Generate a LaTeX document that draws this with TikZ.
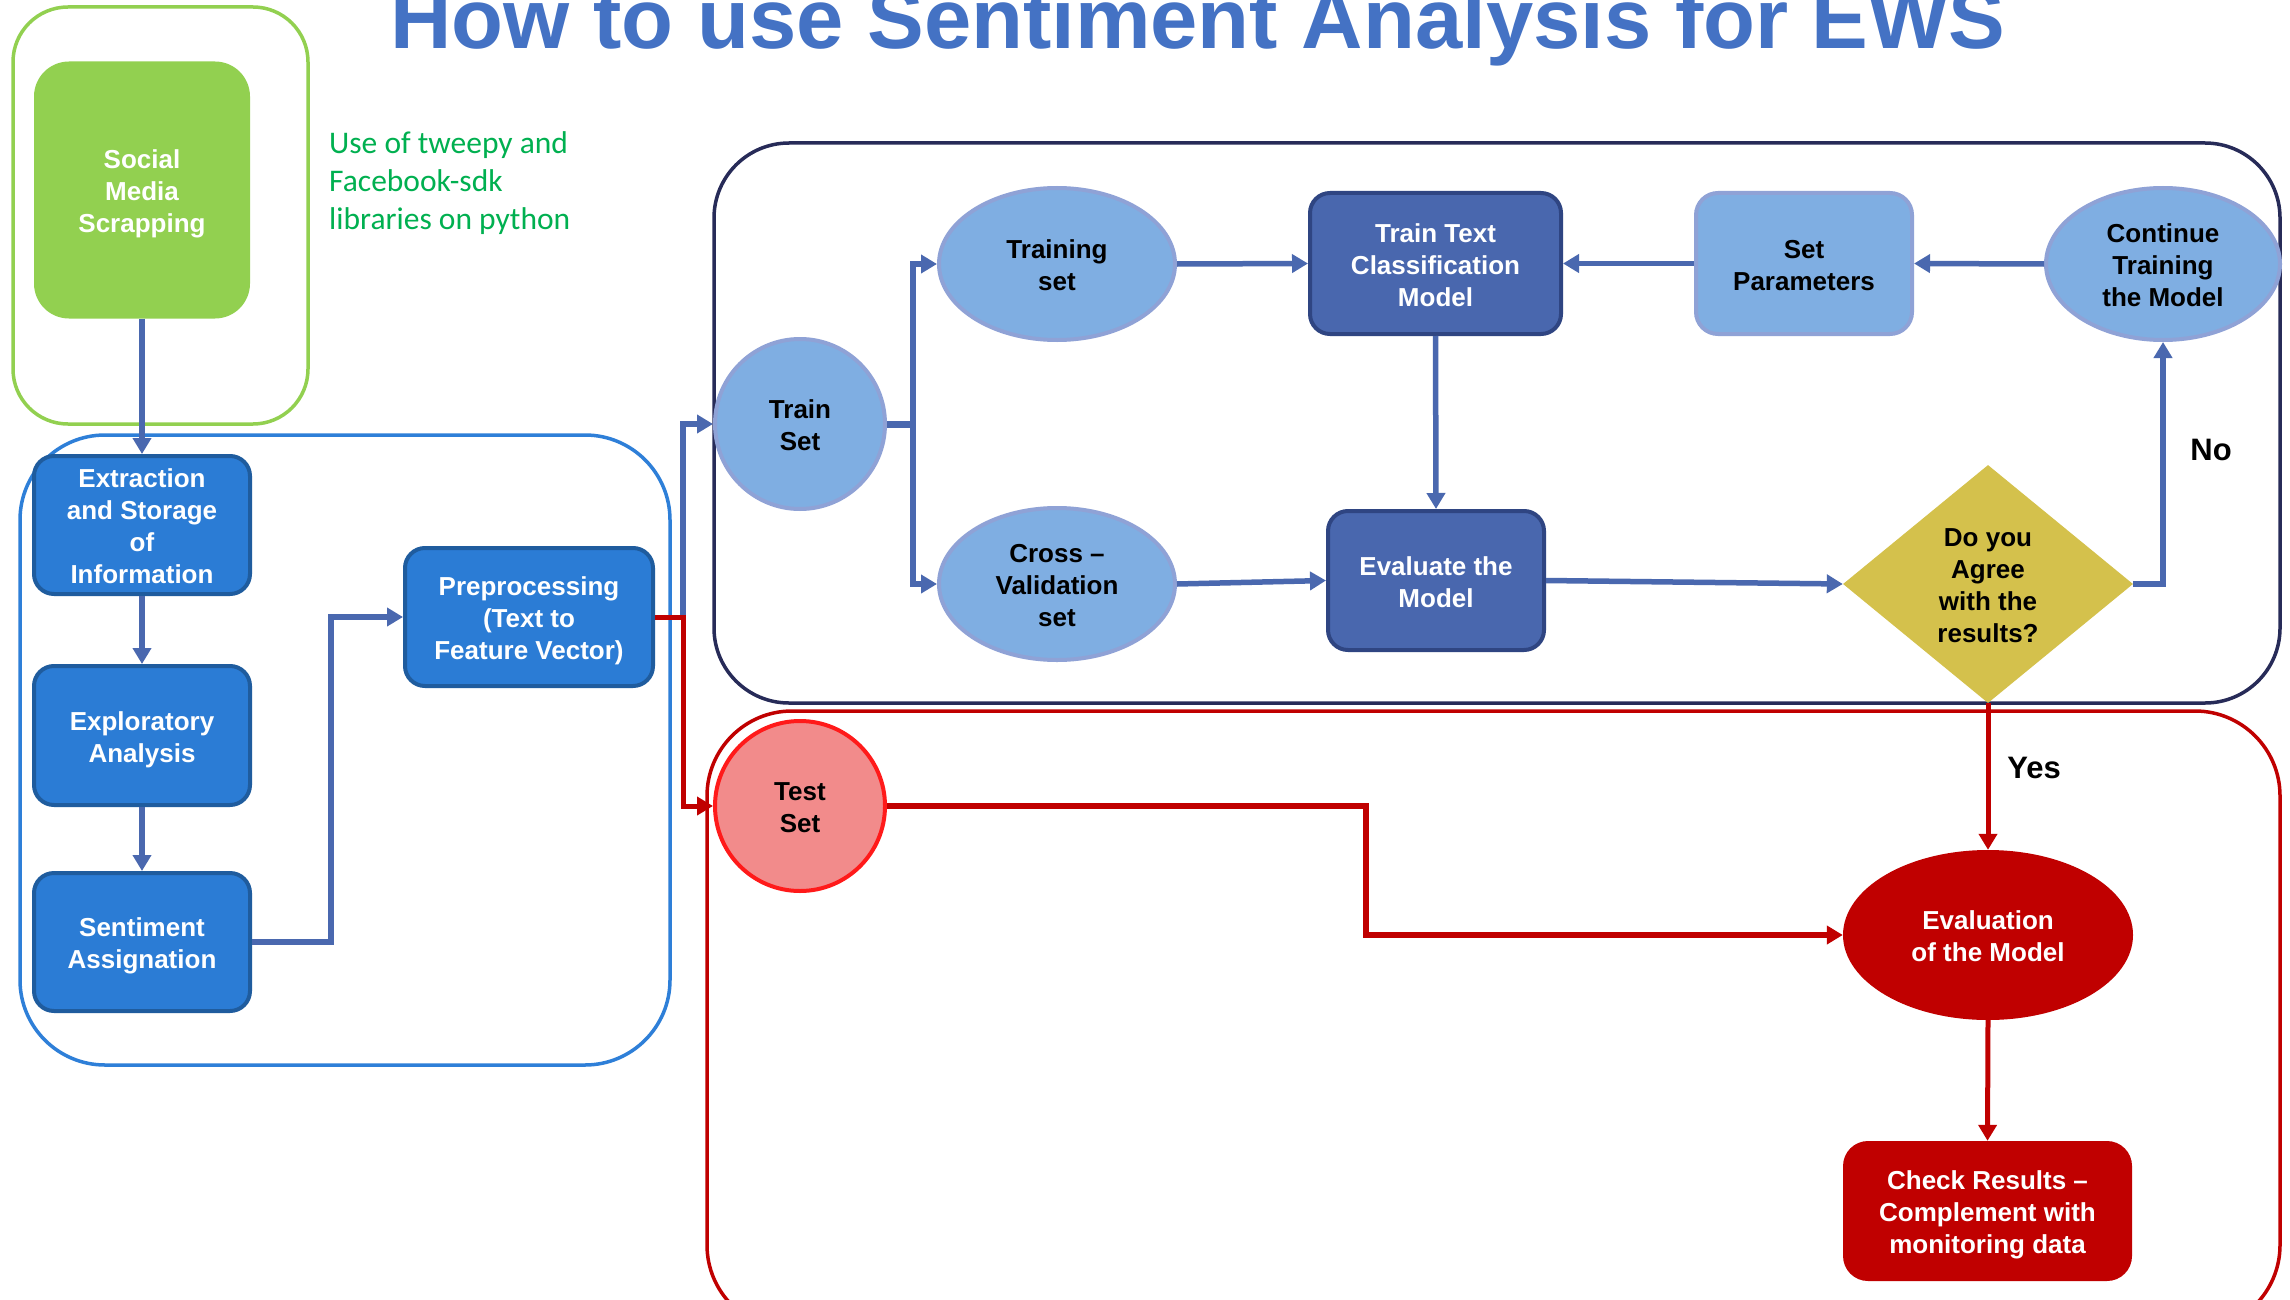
\documentclass[tikz,border=0pt]{standalone}
\usepackage{fontspec}
\setmainfont{Liberation Sans}
\newfontfamily\calib{Carlito}
\usetikzlibrary{arrows.meta,shapes.geometric}
\definecolor{arrblue}{HTML}{4A68AF}
\definecolor{midblue}{HTML}{2B7CD5}
\definecolor{midblueb}{HTML}{1F5C9E}
\definecolor{lightblue}{HTML}{7FAEE2}
\definecolor{lightblueb}{HTML}{8FA2D6}
\definecolor{darkblue}{HTML}{4967AE}
\definecolor{darkblueb}{HTML}{2F4582}
\definecolor{navy}{HTML}{272B58}
\definecolor{myred}{HTML}{C00000}
\definecolor{salmon}{HTML}{F28B8B}
\definecolor{brightred}{HTML}{FF1A1A}
\definecolor{olive}{HTML}{D4C14C}
\definecolor{lgreen}{HTML}{92D050}
\definecolor{tgreen}{HTML}{00B050}
\definecolor{outblue}{HTML}{2E7FD8}
\definecolor{titleblue}{HTML}{4472C4}
\newcommand\mltext[1]{\raisebox{-4.5pt}[\height][\depth]{\begin{tabular}{@{}c@{}}#1\end{tabular}}}
\tikzset{
  txt/.style={font=\bfseries\fontsize{26}{32}\selectfont, inner sep=0pt},
  mbox/.style={txt, rectangle, rounded corners=20pt, draw=midblueb, line width=4pt, fill=midblue, text=white, minimum width=216pt},
  dbox/.style={txt, rectangle, rounded corners=20pt, draw=darkblueb, line width=4pt, fill=darkblue, text=white},
  lbox/.style={txt, rectangle, rounded corners=22pt, draw=lightblueb, line width=4pt, fill=lightblue, text=black},
  lell/.style={txt, ellipse, draw=lightblueb, line width=4pt, fill=lightblue, text=black},
  arr/.style={draw=arrblue, line width=5.5pt, -{Triangle[length=16pt,width=18pt]}},
  bline/.style={draw=arrblue, line width=7pt},
  rarr/.style={draw=myred, line width=5pt, -{Triangle[length=16pt,width=18pt]}},
  outer/.style={line width=3.5pt},
  lbl/.style={font=\bfseries\fontsize{31}{36}\selectfont, inner sep=0pt}
}
\begin{document}
\begin{tikzpicture}[x=1pt,y=-1pt]
\useasboundingbox (0,0) rectangle (2290,1300);
\clip (0,0) rectangle (2290,1300);
\fill[white] (0,0) rectangle (2290,1300);

% title
\node[font=\bfseries\fontsize{85}{90}\selectfont, text=titleblue, anchor=base, inner sep=0pt] (ttl) at (1198,49) {How to use Sentiment Analysis for EWS};

% outer frames
\draw[outer, draw=lgreen, rounded corners=55pt] (13,7) rectangle (308,424);
\draw[outer, draw=outblue, rounded corners=85pt] (20,435) rectangle (670,1065);
\draw[outer, draw=navy, rounded corners=75pt] (714,143) rectangle (2280,703);
\draw[outer, draw=myred, rounded corners=85pt] (707,711) rectangle (2280,1330);

% left column
\node[txt, rectangle, rounded corners=35pt, fill=lgreen, text=white, minimum width=216pt, minimum height=257pt] (smedia) at (142,190) {\mltext{Social\\Media\\Scrapping}};
\node[text=tgreen, font=\calib\fontsize{31.5}{38}\selectfont, align=left, anchor=west, inner sep=0pt] (note) at (329,183) {Use of tweepy and\\Facebook-sdk\\libraries on python};

\node[mbox, minimum height=138pt] (extr) at (142,525) {\mltext{Extraction\\and Storage\\of\\Information}};
\node[mbox, minimum height=139pt] (expl) at (142,735.5) {\mltext{Exploratory\\Analysis}};
\node[mbox, minimum height=138pt] (sent) at (142,942) {\mltext{Sentiment\\Assignation}};
\node[mbox, minimum width=248pt, minimum height=138pt] (prep) at (529,617) {\mltext{Preprocessing\\(Text to\\Feature Vector)}};

% training area
\node[lell, minimum width=170pt, minimum height=170pt] (train) at (800,424) {\mltext{Train\\Set}};
\node[lell, minimum width=236pt, minimum height=152pt] (trs) at (1057,264) {\mltext{Training\\set}};
\node[lell, minimum width=236pt, minimum height=152pt] (cvs) at (1057,584) {\mltext{Cross \textendash\\Validation\\set}};
\node[dbox, minimum width=251pt, minimum height=141pt] (ttc) at (1435.5,263.5) {\mltext{Train Text\\Classification\\Model}};
\node[dbox, minimum width=216pt, minimum height=139pt] (evm) at (1436,580.5) {\mltext{Evaluate the\\Model}};
\node[lbox, minimum width=216pt, minimum height=141pt] (setp) at (1804,263.5) {\mltext{Set\\Parameters}};
\node[lell, minimum width=234pt, minimum height=152pt] (cont) at (2163,264) {\mltext{Continue\\Training\\the Model}};
\node[txt, diamond, aspect=1.22, fill=olive, text=black, minimum width=290pt, minimum height=238pt] (dia) at (1988,584) {\mltext{Do you\\Agree\\with the\\results?}};

% test area
\node[txt, ellipse, draw=brightred, line width=4pt, fill=salmon, text=black, minimum width=170pt, minimum height=170pt] (tst) at (800,806) {\mltext{Test\\Set}};
\node[txt, ellipse, fill=myred, text=white, minimum width=290pt, minimum height=170pt] (evl) at (1988,935) {\mltext{Evaluation\\of the Model}};
\node[txt, rectangle, rounded corners=25pt, fill=myred, text=white, minimum width=289pt, minimum height=140pt] (chk) at (1987.5,1211) {\mltext{Check Results \textendash\\Complement with\\monitoring data}};

\node[lbl] (no) at (2211,450) {No};
\node[lbl] (yes) at (2034,768) {Yes};

% connectors left
\draw[arr] (smedia.south) -- (extr.north);
\draw[arr] (extr.south) -- (expl.north);
\draw[arr] (expl.south) -- (sent.north);
\draw[arr] (sent.east) -- ++(79,0) |- (prep.west);

\coordinate (jn) at (683,617);
\draw[arr] (jn) |- (train.west);
\draw[rarr] (prep.east) -- (jn) |- (tst.west);

% training connectors
\coordinate (fk) at (913,424);
\draw[bline] (train.east) -- (fk);
\draw[arr] (fk) |- (trs.west);
\draw[arr] (fk) |- (cvs.west);
\draw[arr] (trs.east) -- (ttc.west);
\draw[arr] (ttc.south) -- (evm.north);
\draw[arr] (cvs.east) -- (evm.west);
\draw[arr] (evm.east) -- (dia.west);
\draw[arr] (dia.east) -| (cont.south);
\draw[arr] (cont.west) -- (setp.east);
\draw[arr] (setp.west) -- (ttc.east);

% test connectors
\draw[rarr] (dia.south) -- (evl.north);
\draw[rarr, line width=6.5pt] (tst.east) -- ++(479,0) |- (evl.west);
\draw[rarr] (evl.south) -- (chk.north);
\end{tikzpicture}
\end{document}
